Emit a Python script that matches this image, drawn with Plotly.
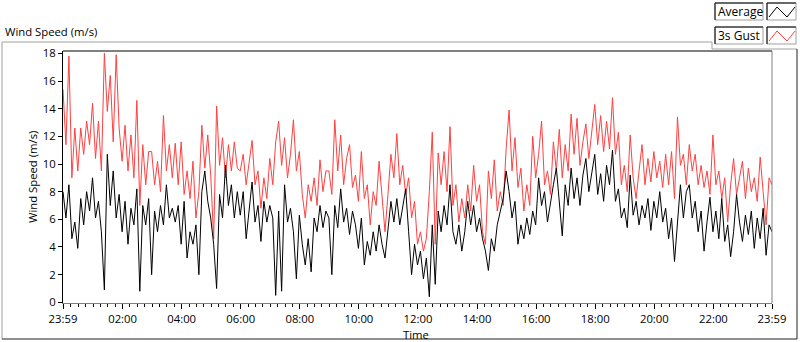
import plotly.graph_objects as go

# ---------------- data ----------------
sample_minutes = 6  # one value every 6 minutes, 23:59 -> 23:59

gust_ms = [
    15.4, 11.4, 17.8, 9.0, 12.6, 9.5, 12.6, 10.7, 13.1, 11.4, 14.4, 10.4, 13.1, 9.5, 18.0,
    13.8, 16.4, 11.6, 17.9, 12.6, 10.2, 12.8, 9.5, 12.1, 9.0, 14.6, 7.0, 11.4, 8.5, 10.9,
    10.9, 8.5, 10.2, 8.0, 13.5, 9.5, 11.4, 9.0, 11.5, 8.5, 11.6, 7.8, 9.5, 7.5, 10.2,
    6.1, 8.0, 12.8, 9.7, 12.1, 9.2, 4.6, 14.2, 9.9, 11.9, 9.0, 11.4, 9.5, 11.6, 9.7,
    9.5, 10.7, 8.5, 10.2, 11.7, 8.5, 9.5, 6.8, 9.0, 7.5, 10.4, 8.5, 11.6, 13.1, 9.9,
    11.9, 9.0, 10.7, 13.2, 9.5, 10.9, 7.8, 6.1, 8.5, 7.3, 9.0, 7.0, 10.3, 8.0, 9.5,
    9.5, 7.8, 13.2, 9.5, 12.1, 8.5, 10.4, 11.4, 8.3, 9.2, 7.3, 10.9, 7.5, 8.5, 5.6,
    8.0, 7.0, 10.2, 7.3, 5.1, 7.8, 10.7, 9.0, 12.2, 8.5, 9.9, 7.8, 9.0, 6.1, 7.3,
    4.2, 5.1, 3.7, 4.6, 8.0, 12.3, 4.2, 10.8, 8.5, 10.9, 8.0, 12.7, 7.0, 8.5, 5.8,
    7.5, 6.1, 8.5, 6.6, 9.9, 7.3, 8.5, 5.1, 4.2, 9.5, 7.5, 10.3, 6.6, 8.0, 7.0,
    11.1, 13.9, 9.5, 11.9, 8.3, 9.7, 6.6, 8.5, 7.0, 12.0, 9.0, 10.7, 13.1, 8.5, 9.5,
    7.8, 11.6, 9.5, 12.5, 9.0, 11.4, 9.5, 13.6, 10.7, 13.3, 9.9, 11.6, 12.9, 10.4, 12.3,
    14.3, 11.4, 13.5, 10.9, 13.1, 11.1, 14.8, 10.7, 12.3, 8.5, 9.9, 8.0, 12.1, 9.0, 7.5,
    9.5, 11.4, 8.5, 10.4, 8.7, 10.9, 9.0, 10.2, 8.3, 10.7, 8.5, 10.9, 7.5, 13.4, 9.9,
    10.7, 8.5, 11.4, 9.5, 10.7, 8.5, 9.9, 8.3, 9.5, 7.8, 12.1, 8.5, 9.5, 7.5, 9.0,
    5.8, 8.5, 10.4, 7.8, 9.0, 10.2, 7.5, 9.7, 8.0, 9.0, 7.3, 10.5, 8.0, 5.6, 9.0,
    8.5,
]

average_ms = [
    8.0, 6.1, 8.5, 4.6, 5.8, 3.9, 7.5, 5.6, 8.0, 6.6, 9.0, 6.1, 7.3, 5.1, 0.9,
    10.7, 7.0, 9.5, 6.1, 7.8, 5.1, 7.3, 4.2, 6.8, 5.6, 8.2, 0.8, 7.0, 5.6, 7.5,
    2.0, 6.6, 5.1, 7.0, 5.6, 8.5, 6.1, 6.8, 5.8, 7.0, 4.2, 7.3, 3.2, 5.1, 4.2,
    5.6, 2.0, 8.0, 9.5, 7.3, 6.1, 4.2, 1.0, 7.8, 6.1, 9.9, 7.0, 8.5, 6.1, 8.0,
    6.3, 8.0, 4.6, 6.6, 8.7, 5.8, 7.0, 4.4, 7.3, 5.8, 7.0, 6.1, 0.5, 6.6, 0.8,
    8.5, 5.8, 6.8, 5.1, 1.7, 6.3, 4.2, 2.7, 4.6, 2.2, 6.1, 5.1, 7.0, 5.4, 6.6,
    6.1, 2.0, 7.0, 5.4, 8.2, 5.8, 6.8, 4.9, 6.6, 5.6, 3.9, 6.1, 2.7, 4.4, 3.4,
    5.1, 3.7, 5.6, 4.2, 3.2, 5.1, 7.3, 5.8, 7.5, 5.6, 7.0, 8.2, 5.1, 2.0, 4.2,
    2.7, 3.7, 1.7, 3.2, 0.4, 5.6, 1.3, 6.6, 5.1, 7.0, 5.6, 8.5, 5.1, 4.2, 5.6,
    3.7, 5.1, 7.3, 5.6, 7.0, 5.1, 6.1, 4.6, 3.7, 2.3, 4.6, 3.7, 5.6, 6.6, 7.5,
    9.5, 8.0, 6.1, 7.3, 4.2, 5.6, 4.6, 6.1, 4.9, 6.6, 5.6, 9.0, 7.0, 8.0, 5.8,
    7.3, 8.5, 9.7, 7.5, 4.8, 8.5, 7.0, 9.7, 7.5, 9.0, 7.0, 9.2, 10.4, 8.0, 9.5,
    10.7, 7.8, 9.3, 7.3, 9.9, 8.5, 11.0, 7.3, 8.2, 6.1, 6.8, 5.4, 9.2, 6.3, 7.3,
    5.6, 7.0, 6.1, 7.5, 5.2, 7.3, 6.1, 8.0, 5.8, 6.8, 4.6, 6.1, 2.95, 5.6, 8.5,
    6.1, 8.0, 8.5, 6.1, 7.3, 5.1, 6.6, 3.7, 5.8, 7.6, 5.1, 6.6, 4.6, 7.5, 4.4,
    5.6, 3.3, 5.1, 7.8, 5.8, 4.4, 6.3, 4.9, 6.6, 3.9, 6.1, 4.6, 6.8, 3.4, 5.6,
    5.1,
]

time_tick_minutes = [0, 121, 241, 361, 481, 601, 721, 841, 961, 1081, 1201, 1321, 1440]
time_tick_labels = ["23:59", "02:00", "04:00", "06:00", "08:00", "10:00", "12:00",
                    "14:00", "16:00", "18:00", "20:00", "22:00", "23:59"]
speed_ticks = [0, 2, 4, 6, 8, 10, 12, 14, 16, 18]

series_names = ["Average", "3s Gust"]
series_colors = ["#000000", "#FF4040"]

minutes = [i * sample_minutes for i in range(len(gust_ms))]

# ---------------- layout helpers (pixel -> paper) ----------------
W, H = 800, 342
L, R, T, B = 63, 772, 51, 303


def fx(p):
    return (p - L) / (R - L)


def fy(p):
    return (B - p) / (B - T)


FONT = "Open Sans, Noto Sans, Arial, sans-serif"
FS = 11.3

fig = go.Figure()
fig.add_trace(go.Scatter(x=minutes, y=gust_ms, mode="lines", name=series_names[1],
                         line=dict(color=series_colors[1], width=1)))
fig.add_trace(go.Scatter(x=minutes, y=average_ms, mode="lines", name=series_names[0],
                         line=dict(color=series_colors[0], width=1)))

fig.update_layout(
    width=W, height=H,
    margin=dict(l=L, r=W - R, t=T, b=H - B, pad=0),
    paper_bgcolor="white", plot_bgcolor="white",
    showlegend=False,
    font=dict(family=FONT, size=FS, color="#000000"),
)

fig.update_xaxes(
    range=[0, 1440], tickmode="array", tickvals=time_tick_minutes, ticktext=time_tick_labels,
    ticks="outside", ticklen=5, tickwidth=1, tickcolor="#000000",
    showgrid=False, zeroline=False, showline=True, linecolor="#808080", linewidth=1,
    tickfont=dict(size=FS),
    minor=dict(tickmode="linear", tick0=1, dtick=15, ticks="outside", ticklen=3,
               tickwidth=1, tickcolor="#000000", showgrid=False),
)
fig.update_yaxes(
    range=[-0.05, 18.17], tickmode="array", tickvals=speed_ticks,
    ticks="outside", ticklen=4, tickwidth=1, tickcolor="#000000",
    showgrid=False, zeroline=False, showline=True, linecolor="#000000", linewidth=1,
    tickfont=dict(size=FS),
)

shapes = []


def line(x0, y0, x1, y1, color, width=1):
    shapes.append(dict(type="line", xref="paper", yref="paper",
                       x0=fx(x0), y0=fy(y0), x1=fx(x1), y1=fy(y1),
                       line=dict(color=color, width=width)))


# plot-area borders (top dark, right light)
line(L, T, R, T, "#000000")
line(R, T, R, B, "#808080")

# outer panel frame (light top/left, dark bottom/right)
line(2, 42, 712, 42, "#A0A0A0")
line(712, 42, 712, 49, "#A0A0A0")
line(712, 49, 797, 49, "#A0A0A0")
line(2, 42, 2, 339, "#A0A0A0")
line(2, 339, 797, 339, "#202020")
line(797, 49, 797, 339, "#202020")

# legend boxes
annotations = []
for r, (name, color) in enumerate(zip(series_names, series_colors)):
    y0 = 3 + 24 * r
    y1 = y0 + 17
    for bx0, bx1 in ((715, 763), (767, 796)):
        shapes.append(dict(type="rect", xref="paper", yref="paper",
                           x0=fx(bx0), x1=fx(bx1), y0=fy(y1), y1=fy(y0),
                           fillcolor="white", line=dict(color="#A0A0A0", width=1)))
        line(bx0, y0, bx1, y0, "#000000")
        line(bx0, y0, bx0, y1, "#000000")
    pts = [(769, y0 + 14), (777, y0 + 4), (787, y0 + 14), (795, y0 + 4)]
    path = "M " + " L ".join(f"{fx(px)},{fy(py)}" for px, py in pts)
    shapes.append(dict(type="path", xref="paper", yref="paper", path=path,
                       line=dict(color=color, width=1)))
    annotations.append(dict(text=name, xref="paper", yref="paper",
                            x=fx(716), y=fy((y0 + y1) / 2), xanchor="left", yanchor="middle",
                            showarrow=False, font=dict(size=FS + 0.7, color="#000000")))

annotations += [
    dict(text="Wind Speed (m/s)", xref="paper", yref="paper", x=fx(3), y=fy(31),
         xanchor="left", yanchor="middle", showarrow=False, font=dict(size=FS)),
    dict(text="Wind Speed (m/s)", xref="paper", yref="paper", x=fx(32), y=fy(177),
         xanchor="center", yanchor="middle", textangle=-90, showarrow=False,
         font=dict(size=FS)),
    dict(text="Time", xref="paper", yref="paper", x=fx(416), y=fy(334),
         xanchor="center", yanchor="middle", showarrow=False, font=dict(size=FS)),
]

fig.update_layout(shapes=shapes, annotations=annotations)
fig.write_html("out.html",
               config={"displayModeBar": False, "staticPlot": True},
               post_script="document.body.style.margin='0';document.body.style.padding='0';")
